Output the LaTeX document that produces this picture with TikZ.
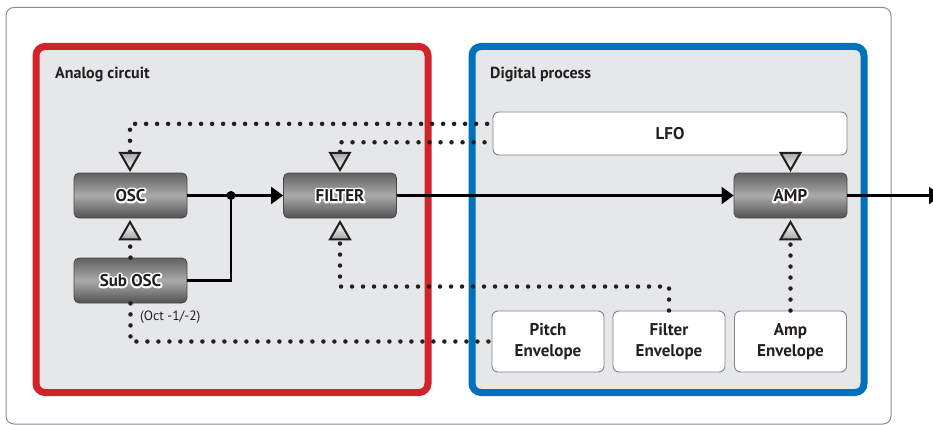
\documentclass[tikz,border=0pt]{standalone}
\usepackage{fontspec}
\setmainfont{PT Sans}
\usetikzlibrary{arrows.meta,shapes.geometric,calc}

\definecolor{framegray}{HTML}{8A8B8D}
\definecolor{panelgray}{HTML}{E6E7E8}
\definecolor{analogred}{HTML}{D2232A}
\definecolor{digitalblue}{HTML}{0072BC}
\definecolor{inkdark}{HTML}{231F20}
\definecolor{boxedge}{HTML}{808285}

% dark lettering with a white outline stroked behind it
\newcommand\haloed[1]{\leavevmode\rlap{\special{pdf:literal direct 1 1 1 RG 3.6 w 1 j 1 J 1 Tr}#1\special{pdf:literal direct 0 Tr}}#1}

\begin{document}
\begin{tikzpicture}[x=1pt,y=-1pt,
  panel/.style={line width=7pt, rounded corners=9pt, fill=panelgray},
  module/.style={draw=black!72, line width=0.8pt, rounded corners=5pt,
    minimum width=113pt, minimum height=45pt, inner sep=0pt,
    top color=black!62, bottom color=black!68, middle color=black!33,
    text=inkdark, font=\fontsize{17}{17}\selectfont\bfseries},
  whitebox/.style={draw=boxedge, line width=0.9pt, rounded corners=6pt, fill=white,
    text=inkdark, font=\fontsize{17}{21}\selectfont\bfseries, align=center, inner sep=0pt},
  panellabel/.style={font=\fontsize{16}{16}\selectfont\bfseries, text=inkdark, anchor=base west, inner sep=0pt},
  triup/.style={regular polygon, regular polygon sides=3, minimum size=23pt, inner sep=0pt,
    draw=inkdark, line width=2pt, top color=white, bottom color=black!35},
  tridown/.style={triup, shape border rotate=180, top color=black!35, bottom color=white},
  dotconn/.style={draw=inkdark, line width=4.5pt, line cap=round, dash pattern=on 0pt off 11pt},
  sig/.style={draw=black, line width=2.2pt, -{Triangle[length=12pt,width=17pt]}},
  wire/.style={draw=black, line width=2.2pt}]

\clip (0,0) rectangle (933,425);

% outer frame and the two sections
\draw[framegray, line width=1pt, rounded corners=8pt] (6,7.5) rectangle (891,424);
\draw[panel, draw=analogred] (36,46.5) rectangle (428,392.5);
\draw[panel, draw=digitalblue] (472,46.5) rectangle (864,392.5);

\node[panellabel] (lblanalog) at (55,78.5) {Analog circuit};
\node[panellabel] (lbldigital) at (490,78.5) {Digital process};

% modules
\node[module] (osc) at (130.5,195.5) {\haloed{OSC}};
\node[module] (subosc) at (130.5,280.5) {\haloed{Sub OSC}};
\node[module] (filter) at (340,195.5) {\haloed{FILTER}};
\node[module] (amp) at (790.5,195.5) {\haloed{AMP}};

% modulation sources
\node[whitebox, minimum width=354pt, minimum height=43pt] (lfo) at (670,133.5) {LFO};
\node[whitebox, minimum width=112pt, minimum height=61pt] (penv) at (548,341.5) {Pitch\\Envelope};
\node[whitebox, minimum width=112pt, minimum height=61pt] (fenv) at (669,341.5) {Filter\\Envelope};
\node[whitebox, minimum width=112pt, minimum height=61pt] (aenv) at (790.5,341.5) {Amp\\Envelope};

\node[font=\fontsize{13.5}{13.5}\selectfont, text=inkdark, anchor=west, inner sep=0pt] (octave) at (140,317) {(Oct -1/-2)};

% modulation inputs
\node[tridown, anchor=corner 1] (tosctop) at (130,172) {};
\node[triup, anchor=corner 1] (toscbot) at (130,220) {};
\node[tridown, anchor=corner 1] (tfilttop) at (340,172) {};
\node[triup, anchor=corner 1] (tfiltbot) at (340,220) {};
\node[tridown, anchor=corner 1] (tamptop) at (790.5,172) {};
\node[triup, anchor=corner 1] (tampbot) at (790.5,220) {};

% modulation routing
\draw[dotconn] (tosctop.side 2) |- ($(lfo.north west)!0.28!(lfo.south west)$);
\draw[dotconn] (tfilttop.side 2) |- ($(lfo.north west)!0.70!(lfo.south west)$);
\draw[dotconn] (subosc.north) -- (toscbot.side 2);
\draw[dotconn] (subosc.south) |- (penv.west);
\draw[dotconn] (fenv.north) -- ++(0,-24) -| (tfiltbot.side 2);
\draw[dotconn] (aenv.north) -- (tampbot.side 2);

% audio path
\node[circle, fill=black, inner sep=0pt, minimum size=9pt] (mix) at (231,195.5) {};
\draw[sig] (osc.east) -- (filter.west);
\draw[wire] (subosc.east) -| (mix);
\draw[sig] (filter.east) -- (amp.west);
\coordinate (out) at (941,195.5);
\draw[sig] (amp.east) -- (out);
\end{tikzpicture}
\end{document}
